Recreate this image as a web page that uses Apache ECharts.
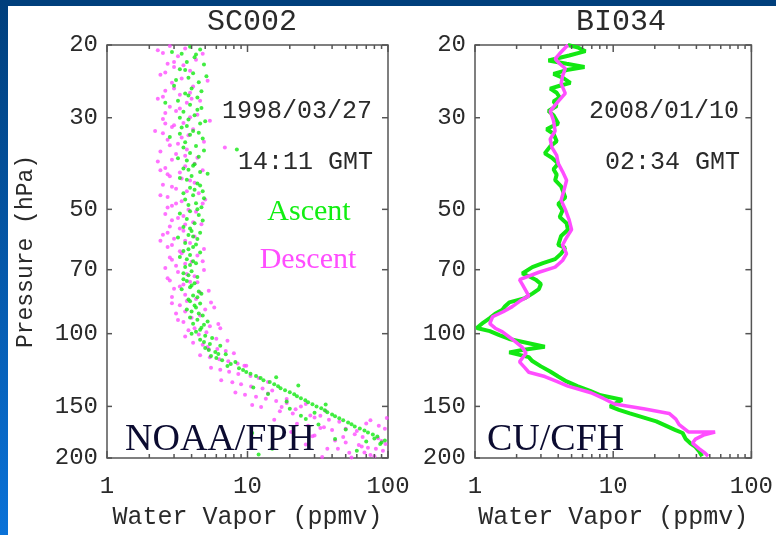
<!DOCTYPE html>
<html><head><meta charset="utf-8">
<script src="https://cdn.jsdelivr.net/npm/echarts@6/dist/echarts.min.js"></script>
<style>html,body{margin:0;padding:0;background:#fff}#c{width:776px;height:535px}</style>
</head><body><div id="c"></div>
<script>
// ---------- data ----------
const panelTitles = ['SC002', 'BI034'];
const panelDates = ['1998/03/27', '2008/01/10'];
const panelTimes = ['14:11 GMT', '02:34 GMT'];
const panelLabels = ['NOAA/FPH', 'CU/CFH'];
const xTickMajor = [1, 10, 100];
const xTickMinor = [2, 3, 4, 5, 6, 7, 8, 9, 20, 30, 40, 50, 60, 70, 80, 90];
const yTicks = [20, 30, 50, 70, 100, 150, 200];

// SC002 (NOAA/FPH) ascent: [water vapor ppmv, pressure hPa]
const sc002Ascent = [
[3.9,20.2],[4.6,20.5],[3.4,21.0],[4.2,21.4],[3.7,22.0],[4.9,22.3],[3.3,22.9],[4.1,23.4],[3.8,24.0],[4.5,24.6],
[3.0,25.1],[4.0,25.5],[3.6,26.2],[4.4,26.8],[3.2,27.3],[3.9,27.9],[4.7,28.4],[3.5,29.0],[4.2,29.6],[3.8,30.3],
[4.6,31.0],[3.4,31.7],[4.1,32.3],[3.9,33.0],[4.8,33.7],[3.6,34.4],[4.3,35.1],[8.4,35.8],[3.9,36.5],[4.5,37.3],
[3.7,38.1],[4.2,38.9],[3.5,39.8],[4.6,40.6],[4.0,41.5],[3.7,42.4],[4.4,43.3],[3.9,44.3],[4.8,45.2],[4.1,46.2],
[3.6,47.3],[4.3,48.3],[4.7,49.4],[3.9,50.5],[4.5,51.6],[3.7,52.8],[4.2,54.0],[3.5,55.2],[4.0,56.4],[3.8,57.7],
[4.4,59.0],[3.6,60.3],[4.1,61.7],[3.5,63.1],[3.9,64.5],[3.7,66.0],[4.3,67.5],[3.6,69.0],[4.0,70.6],[3.8,72.2],
[3.5,73.8],[4.2,75.5],[3.9,77.2],[4.5,79.0],[4.1,80.8],[3.8,82.6],[4.6,84.5],[4.3,86.4],[4.0,88.4],[4.8,90.4],
[4.4,92.5],[4.1,94.6],[4.7,96.8],[4.3,99.0],[5.0,101.2],[4.6,103.5],[5.4,105.9],[5.0,108.3],[5.9,110.8],[5.5,113.3],
[6.6,115.9],[7.6,118.5],[8.7,121.2],[9.8,123.9],[11.5,126.7],[13.0,129.6],[15.5,132.5],[17.2,135.5],[20.0,138.6],[22.5,141.7],
[25.8,144.9],[29.0,148.2],[33.5,151.6],[37.0,155.0],[42.0,158.5],[48.0,162.1],[55.0,165.8],[63.0,169.6],[72.0,173.4],[84.0,177.3],
[95.0,181.4],[10.8,174.0],[15.0,190.0],[42.0,180.0],[12.0,196.0],[60.0,192.0],[88.0,185.0],[3.3,32.8],[4.6,43.8],[4.1,58.2],
[3.9,68.2],[4.4,81.6],[4.9,95.2],[6.2,112.0],[10.5,125.0],[18.5,137.0],[27.0,146.5],[40.0,157.0],[52.0,164.0],[78.0,175.5],
[2.9,20.8],[4.3,21.1],[3.6,23.0],[5.1,23.8],[3.1,24.3],[4.7,25.9],[3.8,26.5],[2.6,27.6],[4.4,28.7],[3.3,30.0],
[5.0,30.6],[3.7,31.4],[4.5,32.6],[2.8,33.4],[3.5,35.4],[4.9,36.0],[3.2,37.6],[4.1,39.2],[3.8,40.1],[5.2,41.0],
[3.3,42.0],[4.2,44.8],[3.5,45.7],[4.9,47.0],[3.8,48.8],[4.4,50.0],[3.3,51.2],[4.8,53.2],[3.9,55.6],[4.6,57.0],
[3.2,58.5],[4.3,60.8],[3.8,62.5],[4.6,63.6],[3.3,65.2],[4.1,66.8],[3.5,71.4],[4.4,72.9],[3.7,74.6],[4.0,76.4],
[3.4,78.1],[4.7,80.0],[3.9,83.5],[4.2,85.5],[3.7,87.4],[4.5,89.3],[3.9,91.4],[5.2,93.5],[4.6,97.9],[4.0,100.0],
[5.6,102.5],[4.9,104.7],[6.4,107.0],[5.3,109.5],[7.0,112.1],[6.0,114.6],[8.2,117.1],[7.2,119.8],[9.3,122.5],[12.4,128.1],
[14.4,131.0],[16.5,134.0],[21.5,140.1],[24.0,143.3],[31.0,150.0],[35.5,153.3],[45.0,160.3],[58.0,167.7],[68.0,171.5],[80.0,179.4],
[90.0,183.4],[32.0,166.0],[24.0,158.0],[20.0,152.0],[14.0,140.0],[19.0,146.0],[30.0,155.5],[11.0,135.0],[26.0,161.0],[36.0,148.5],
[50.0,170.5],[70.0,182.5],[23.0,133.5],[16.0,127.5]
];
// SC002 descent
const sc002Descent = [
[2.8,20.1],[3.6,20.4],[2.5,20.9],[3.2,21.3],[4.3,21.7],[2.7,22.2],[3.0,22.6],[3.9,23.1],[2.4,23.6],[3.4,24.1],
[2.9,24.7],[4.1,25.2],[2.6,25.8],[3.3,26.4],[2.3,27.0],[3.7,27.6],[2.8,28.2],[3.1,28.9],[4.4,29.5],[2.5,30.2],
[3.5,30.9],[2.9,31.6],[2.2,32.3],[3.8,33.1],[2.7,33.9],[3.2,34.7],[6.9,35.4],[2.4,36.2],[3.6,37.1],[2.9,37.9],
[4.2,38.8],[2.6,39.7],[3.3,40.7],[2.8,41.6],[3.9,42.6],[2.5,43.6],[3.1,44.6],[4.5,45.7],[2.7,46.7],[3.4,47.8],
[2.9,49.0],[3.8,50.1],[2.6,51.3],[3.2,52.5],[4.1,53.7],[2.8,55.0],[3.5,56.3],[2.5,57.6],[3.0,58.9],[3.9,60.3],
[2.7,61.7],[3.3,63.2],[4.4,64.7],[2.9,66.2],[3.6,67.7],[2.6,69.3],[3.2,70.9],[4.2,72.6],[2.8,74.3],[3.5,76.0],
[3.0,77.8],[4.6,79.6],[2.9,81.5],[3.7,83.4],[3.3,85.4],[5.0,87.4],[3.1,89.4],[4.0,91.5],[3.5,93.7],[5.4,95.9],
[3.8,98.1],[4.5,100.4],[6.0,102.8],[4.1,105.2],[5.2,107.7],[7.0,110.2],[4.6,112.8],[6.3,115.4],[8.5,118.1],[5.5,120.9],
[7.4,123.7],[10.5,126.6],[6.5,129.6],[9.0,132.6],[12.8,135.7],[8.2,138.9],[11.5,142.1],[16.0,145.5],[10.8,148.9],[22.0,152.4],
[21.0,156.0],[30.0,159.6],[45.0,163.4],[27.0,167.2],[40.0,171.1],[58.0,175.1],[85.0,179.2],[50.0,183.4],[65.0,187.7],[92.0,192.1],
[75.0,196.6],[55.0,199.5],[70.0,165.0],[95.0,170.0],[33.0,158.0],[62.0,186.0],[80.0,198.0],[48.0,178.0],[26.0,148.0],[19.0,144.0],
[36.0,154.0],[98.0,160.0],[14.0,139.5],[17.5,150.5],[35.0,168.5],[44.0,190.0],[68.0,194.0],[90.0,182.0],[3.0,22.0],[4.0,27.0],
[2.6,31.0],[3.7,35.8],[2.4,40.2],[4.8,48.4],[3.6,54.4],[2.4,59.6],[4.8,66.8],[3.9,74.9],[5.5,84.0],[6.4,97.0],
[5.3,109.0],[9.5,119.5],[14.0,131.0],[24.0,150.0],[38.0,161.5],[60.0,172.0],[30.0,176.5],[72.0,189.0],
[2.3,20.6],[4.8,21.0],[3.5,22.4],[2.6,23.3],[5.2,24.4],[3.0,25.5],[3.9,26.1],[2.5,26.7],[4.6,27.3],[3.3,28.5],
[2.6,29.2],[3.9,29.9],[5.4,30.5],[3.0,31.3],[4.1,32.0],[2.5,32.7],[3.4,33.5],[4.9,34.3],[2.8,35.0],[3.1,36.7],
[4.4,37.5],[2.3,38.3],[3.6,39.3],[4.8,40.2],[2.7,41.1],[3.4,42.1],[4.2,43.1],[2.9,44.1],[3.7,45.2],[2.4,46.2],
[5.0,47.3],[3.1,48.4],[2.7,49.5],[4.3,50.7],[3.5,51.9],[2.9,53.1],[4.7,54.3],[3.3,55.6],[2.7,57.0],[4.2,58.2],
[3.6,59.6],[2.9,61.0],[4.9,62.4],[3.4,63.9],[2.8,65.4],[4.0,67.0],[3.1,68.5],[4.9,70.1],[3.7,71.7],[2.7,73.4],
[4.4,75.1],[3.3,76.9],[5.3,78.7],[3.6,80.5],[4.3,82.4],[2.9,84.4],[5.8,86.4],[3.6,88.4],[4.6,90.4],[3.2,92.6],
[6.2,94.8],[4.2,97.0],[5.1,99.2],[3.6,101.6],[7.2,104.0],[4.8,106.4],[6.1,108.9],[8.0,111.5],[5.4,114.1],[7.3,116.7],
[9.8,119.5],[6.4,122.3],[8.6,125.2],[12.0,128.1],[7.8,131.1],[10.6,134.2],[15.0,137.3],[9.6,140.5],[13.5,143.8],[19.0,147.2],
[12.5,150.6],[17.0,154.2],[28.0,157.8],[15.5,161.5],[22.5,165.3],[33.0,169.2],[20.5,173.1],[29.0,177.2],[42.0,181.3],[26.0,185.5],
[37.0,189.9],[53.0,194.3],[34.0,198.8],[86.0,167.0],[96.0,185.0],[66.0,178.0],[75.0,162.0],[50.0,170.0],[82.0,190.0]
];
// BI034 (CU/CFH) ascent
const bi034Ascent = [
[4.7,20.0],[5.6,20.3],[6.3,20.7],[4.8,21.2],[3.4,21.8],[4.6,22.2],[6.2,22.6],[4.6,23.0],[3.7,23.5],[4.3,24.0],
[4.9,24.7],[4.1,25.1],[3.5,25.5],[3.9,26.1],[4.1,26.8],[3.7,27.4],[3.9,28.1],[3.4,28.9],[3.7,29.6],[4.0,31.0],
[3.6,31.5],[3.3,32.0],[3.7,32.8],[3.9,34.2],[3.5,35.2],[3.2,36.6],[3.6,37.5],[4.0,38.7],[3.7,40.0],[3.9,41.2],
[3.8,42.5],[4.2,44.0],[4.5,46.8],[4.0,48.5],[4.3,50.3],[4.1,52.2],[4.6,54.0],[4.7,56.0],[4.2,58.0],[4.0,61.0],
[4.5,62.0],[4.2,64.0],[3.8,66.0],[3.1,67.5],[2.6,69.0],[2.2,71.5],[2.5,72.8],[2.75,74.0],[3.0,75.8],[2.9,78.0],
[2.6,80.0],[2.3,82.0],[1.77,84.0],[1.65,85.8],[1.58,87.5],[1.4,89.5],[1.28,91.7],[1.15,94.0],[1.03,96.9],[1.28,98.6],
[1.5,100.8],[1.77,103.0],[2.4,105.3],[3.2,107.6],[2.2,109.5],[1.77,111.0],[2.45,114.0],[2.6,116.5],[3.0,120.0],[3.5,123.5],
[4.0,127.0],[4.6,130.5],[5.5,134.0],[6.8,137.5],[8.1,141.0],[11.6,144.6],[9.5,150.0],[11.0,153.0],[13.2,156.0],[16.0,159.0],
[20.5,163.0],[24.0,167.0],[28.0,171.0],[31.8,174.0],[33.5,180.0],[36.0,184.0],[39.4,188.0],[42.0,193.0],[44.0,198.0]
];
// BI034 descent
const bi034Descent = [
[4.7,20.0],[4.2,20.8],[3.8,21.6],[4.1,22.2],[4.5,22.8],[4.3,23.8],[4.2,24.8],[4.5,26.2],[4.0,27.4],[3.5,28.9],
[3.7,30.5],[3.8,32.3],[3.5,33.8],[3.6,35.4],[3.9,37.0],[4.0,38.7],[4.3,40.5],[4.6,42.5],[4.4,45.0],[4.2,47.5],
[4.5,50.0],[4.8,53.0],[5.0,56.0],[4.6,58.5],[4.3,61.0],[4.6,64.0],[4.3,66.5],[3.8,69.0],[2.9,71.0],[2.1,74.0],
[2.2,76.0],[2.3,78.0],[2.45,81.0],[2.1,83.5],[1.86,86.0],[1.6,88.5],[1.34,91.0],[1.28,94.6],[1.4,97.0],[1.58,99.0],
[1.85,103.0],[2.2,108.0],[2.34,111.5],[2.1,117.0],[2.3,121.0],[2.45,124.0],[3.2,127.0],[3.9,130.5],[4.7,134.0],[6.9,139.0],
[8.5,143.5],[10.2,148.0],[16.6,152.0],[25.4,156.0],[28.4,161.0],[30.0,166.0],[35.0,173.0],[54.6,173.0],[45.0,176.0],[39.4,180.0],
[37.5,184.0],[42.0,190.0],[46.5,195.0],[48.6,198.0]
];

// ---------- chart ----------
const MONO = '"Liberation Mono", "DejaVu Sans Mono", monospace';
const SERIF = '"Liberation Serif", "DejaVu Serif", serif';
const TXT = '#2a2a2a';
const FRAME = '#555';
const grids = [
  {left: 107, top: 45, width: 281, height: 413},
  {left: 475, top: 45, width: 282, height: 413}
];

function xAxisFor(i) {
  return {
    type: 'log', logBase: 10, min: 1, max: 100, gridIndex: i,
    axisLine: {show: false}, axisTick: {show: false}, splitLine: {show: false},
    axisLabel: {color: TXT, fontFamily: MONO, fontSize: 24, margin: 17, showMinLabel: true, showMaxLabel: true},
    name: 'Water Vapor (ppmv)', nameLocation: 'middle', nameGap: 47,
    nameTextStyle: {color: TXT, fontFamily: MONO, fontSize: 25}
  };
}
function yAxisFor(i) {
  const a = {
    type: 'log', logBase: 10, min: 20, max: 200, inverse: true, gridIndex: i,
    axisLine: {show: false}, axisTick: {show: false}, splitLine: {show: false}, axisLabel: {show: false}
  };
  if (i === 0) {
    a.name = 'Pressure (hPa)'; a.nameLocation = 'middle'; a.nameRotate = 90; a.nameGap = 70;
    a.nameTextStyle = {color: TXT, fontFamily: MONO, fontSize: 23};
  }
  return a;
}

function tickSeries(i) {
  return [
    { type: 'custom', xAxisIndex: i, yAxisIndex: i, silent: true, z: 5,
      data: yTicks.map(p => [1, p]),
      renderItem: function (params, api) {
        const p = api.value(1);
        const l = api.coord([1, p]); const r = api.coord([100, p]);
        return {type: 'group', children: [
          {type: 'line', shape: {x1: l[0], y1: l[1], x2: l[0] + 5, y2: l[1]}, style: {stroke: FRAME, lineWidth: 1.5}},
          {type: 'line', shape: {x1: r[0] - 6, y1: r[1], x2: r[0], y2: r[1]}, style: {stroke: FRAME, lineWidth: 1.5}},
          {type: 'text', style: {text: String(p), x: l[0] - 9, y: l[1], align: 'right', verticalAlign: 'middle',
            fontFamily: MONO, fontSize: 24, fill: TXT}}
        ]};
      }
    },
    { type: 'custom', xAxisIndex: i, yAxisIndex: i, silent: true, z: 5,
      data: xTickMajor.concat(xTickMinor).map(v => [v, 20]),
      renderItem: function (params, api) {
        const v = api.value(0);
        const len = xTickMajor.indexOf(v) >= 0 ? 7 : 4;
        const t = api.coord([v, 20]); const b = api.coord([v, 200]);
        return {type: 'group', children: [
          {type: 'line', shape: {x1: t[0], y1: t[1], x2: t[0], y2: t[1] + len}, style: {stroke: FRAME, lineWidth: 1.5}},
          {type: 'line', shape: {x1: b[0], y1: b[1] - len, x2: b[0], y2: b[1]}, style: {stroke: FRAME, lineWidth: 1.5}}
        ]};
      }
    }
  ];
}

const green = '#13e813';
const magenta = '#ff4dff';

const option = {
  backgroundColor: '#ffffff',
  animation: false,
  grid: grids.map(g => Object.assign({show: true, borderColor: FRAME, borderWidth: 1.5, backgroundColor: '#fff'}, g)),
  title: [
    {text: panelTitles[0], left: 247, top: 2, textAlign: 'center', textStyle: {fontFamily: MONO, fontSize: 30, fontWeight: 'normal', color: TXT}},
    {text: panelTitles[1], left: 616, top: 2, textAlign: 'center', textStyle: {fontFamily: MONO, fontSize: 30, fontWeight: 'normal', color: TXT}}
  ],
  xAxis: [xAxisFor(0), xAxisFor(1)],
  yAxis: [yAxisFor(0), yAxisFor(1)],
  series: [
    {type: 'scatter', name: 'Descent', xAxisIndex: 0, yAxisIndex: 0, data: sc002Descent, symbol: 'circle', symbolSize: 4,
      itemStyle: {color: magenta}, z: 2},
    {type: 'scatter', name: 'Ascent', xAxisIndex: 0, yAxisIndex: 0, data: sc002Ascent, symbol: 'circle', symbolSize: 4,
      itemStyle: {color: green}, z: 3},
    {type: 'line', name: 'Ascent', xAxisIndex: 1, yAxisIndex: 1, data: bi034Ascent, showSymbol: false, symbol: 'none',
      lineStyle: {color: green, width: 4}, z: 2},
    {type: 'line', name: 'Descent', xAxisIndex: 1, yAxisIndex: 1, data: bi034Descent, showSymbol: false, symbol: 'none',
      lineStyle: {color: magenta, width: 3.5}, z: 3}
  ].concat(tickSeries(0), tickSeries(1)),
  graphic: [
    {type: 'rect', shape: {x: 0, y: 0, width: 776, height: 6}, style: {fill: '#003f7c'}, z: 100},
    {type: 'rect', shape: {x: 0, y: 0, width: 8, height: 535}, z: 100,
      style: {fill: new echarts.graphic.LinearGradient(0, 0, 0, 1, [{offset: 0, color: '#003f7c'}, {offset: 1, color: '#0a72d8'}])}},
    {type: 'text', x: 372, y: 111, z: 50, style: {text: panelDates[0], align: 'right', verticalAlign: 'middle', fontFamily: MONO, fontSize: 25, fill: TXT}},
    {type: 'text', x: 373, y: 162, z: 50, style: {text: panelTimes[0], align: 'right', verticalAlign: 'middle', fontFamily: MONO, fontSize: 25, fill: TXT}},
    {type: 'text', x: 739, y: 111, z: 50, style: {text: panelDates[1], align: 'right', verticalAlign: 'middle', fontFamily: MONO, fontSize: 25, fill: TXT}},
    {type: 'text', x: 740, y: 162, z: 50, style: {text: panelTimes[1], align: 'right', verticalAlign: 'middle', fontFamily: MONO, fontSize: 25, fill: TXT}},
    {type: 'text', x: 309, y: 227, z: 50, style: {text: 'Ascent', align: 'center', verticalAlign: 'bottom', fontFamily: SERIF, fontSize: 30, fill: '#11ee11'}},
    {type: 'text', x: 308, y: 275, z: 50, style: {text: 'Descent', align: 'center', verticalAlign: 'bottom', fontFamily: SERIF, fontSize: 30, fill: '#ff4dff'}},
    {type: 'text', x: 125, y: 459, z: 50, style: {text: panelLabels[0], align: 'left', verticalAlign: 'bottom', fontFamily: SERIF, fontSize: 38, fill: '#0b0b30'}},
    {type: 'text', x: 487, y: 459, z: 50, style: {text: panelLabels[1], align: 'left', verticalAlign: 'bottom', fontFamily: SERIF, fontSize: 38, fill: '#0b0b30'}}
  ]
};
const chart = echarts.init(document.getElementById('c'), null, {renderer: 'canvas'});
chart.setOption(option);
</script></body></html>
